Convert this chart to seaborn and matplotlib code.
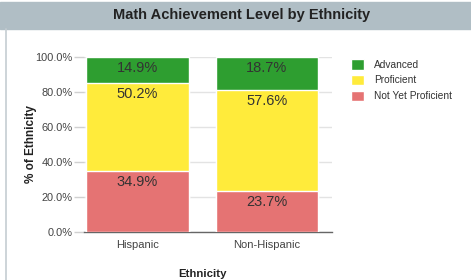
#!/usr/bin/env python3
"""Stacked 100% bar chart of math achievement level by ethnicity."""

import matplotlib as mpl
import matplotlib.pyplot as plt
import pandas as pd
import seaborn as sns
from matplotlib.patches import Rectangle
from matplotlib.lines import Line2D
from matplotlib.ticker import PercentFormatter

mpl.use("Agg")

ETHNICITY = ["Hispanic", "Non-Hispanic"]
LEVELS = ["Advanced", "Proficient", "Not Yet Proficient"]
ADVANCED = [14.9, 18.7]
PROFICIENT = [50.2, 57.6]
NOT_YET = [34.9, 23.7]
COLORS = {"Advanced": "#2e9e30", "Proficient": "#ffeb3b",
          "Not Yet Proficient": "#e57373"}

sns.set_theme(style="white")
plt.rcParams["font.family"] = ["Liberation Sans", "DejaVu Sans"]

df = pd.DataFrame({"ethnicity": ETHNICITY, "Advanced": ADVANCED,
                   "Proficient": PROFICIENT, "Not Yet Proficient": NOT_YET})
# cumulative tops, drawn from the tallest down so lower segments cover
df["top_red"] = df["Not Yet Proficient"]
df["top_yellow"] = df["top_red"] + df["Proficient"]
df["top_green"] = df["top_yellow"] + df["Advanced"]

fig = plt.figure(figsize=(4.71, 2.8), dpi=100)
fig.patch.set_facecolor("white")

# title band and left border
fig.patches.append(Rectangle((0, 1 - 29 / 280), 1, 27 / 280,
                             transform=fig.transFigure, color="#b0bec5",
                             zorder=0))
fig.lines.append(Line2D([5.5 / 471, 5.5 / 471], [0, 1 - 29 / 280],
                        transform=fig.transFigure, color="#c5cdd2", lw=1.2))
fig.text(242 / 471, 1 - 15.5 / 280, "Math Achievement Level by Ethnicity",
         ha="center", va="center", fontsize=10.5, fontweight="bold",
         color="#222222")

ax = fig.add_axes([84 / 471, 1 - 232 / 280, 248 / 471, 175 / 280])
for col, lev in [("top_green", "Advanced"), ("top_yellow", "Proficient"),
                 ("top_red", "Not Yet Proficient")]:
    sns.barplot(data=df, x="ethnicity", y=col, color=COLORS[lev],
                saturation=1, width=0.795, ax=ax, label=lev, zorder=3)

# segment labels sit just under the top of each segment
for i in range(len(ETHNICITY)):
    tops = [df["top_green"][i], df["top_yellow"][i], df["top_red"][i]]
    for lev, t in zip(LEVELS, tops):
        v = df[lev][i]
        ax.text(i, t - 6.3, f"{v:.1f}%", ha="center", va="center",
                fontsize=10.5, color="#333333", zorder=4)

ax.set_ylim(0, 100)
ax.set_xlim(-0.413, 1.502)
ax.yaxis.set_major_formatter(PercentFormatter(decimals=1))
ax.set_yticks([0, 20, 40, 60, 80, 100])
ax.grid(axis="y", color="#e3e3e3", lw=1, zorder=0)
for s in ["top", "right", "left"]:
    ax.spines[s].set_visible(False)
ax.spines["bottom"].set_color("#666666")
ax.spines["bottom"].set_linewidth(1)
ax.tick_params(axis="y", left=True, length=7, width=1, color="#d0d0d0",
               labelsize=7.9, labelcolor="#444444", pad=1)
ax.tick_params(axis="x", bottom=False, labelsize=8, labelcolor="#444444",
               pad=0)
ax.set_xlabel("Ethnicity", fontsize=8.2, fontweight="bold", color="#222222")
ax.xaxis.set_label_coords(0.478, -0.21)
ax.set_ylabel("% of Ethnicity", fontsize=8.5, fontweight="bold",
              color="#222222")
ax.yaxis.set_label_coords(-0.188, 0.5)

handles, labels = ax.get_legend_handles_labels()
leg = ax.legend(handles, labels, loc="upper left",
                bbox_to_anchor=(342 / 471, 1 - 50 / 280),
                bbox_transform=fig.transFigure, frameon=False,
                fontsize=7.3, handlelength=1.25, handleheight=1.2,
                labelspacing=0.5, handletextpad=1.0)
for t in leg.get_texts():
    t.set_color("#333333")

fig.savefig("out.png", dpi=100)
